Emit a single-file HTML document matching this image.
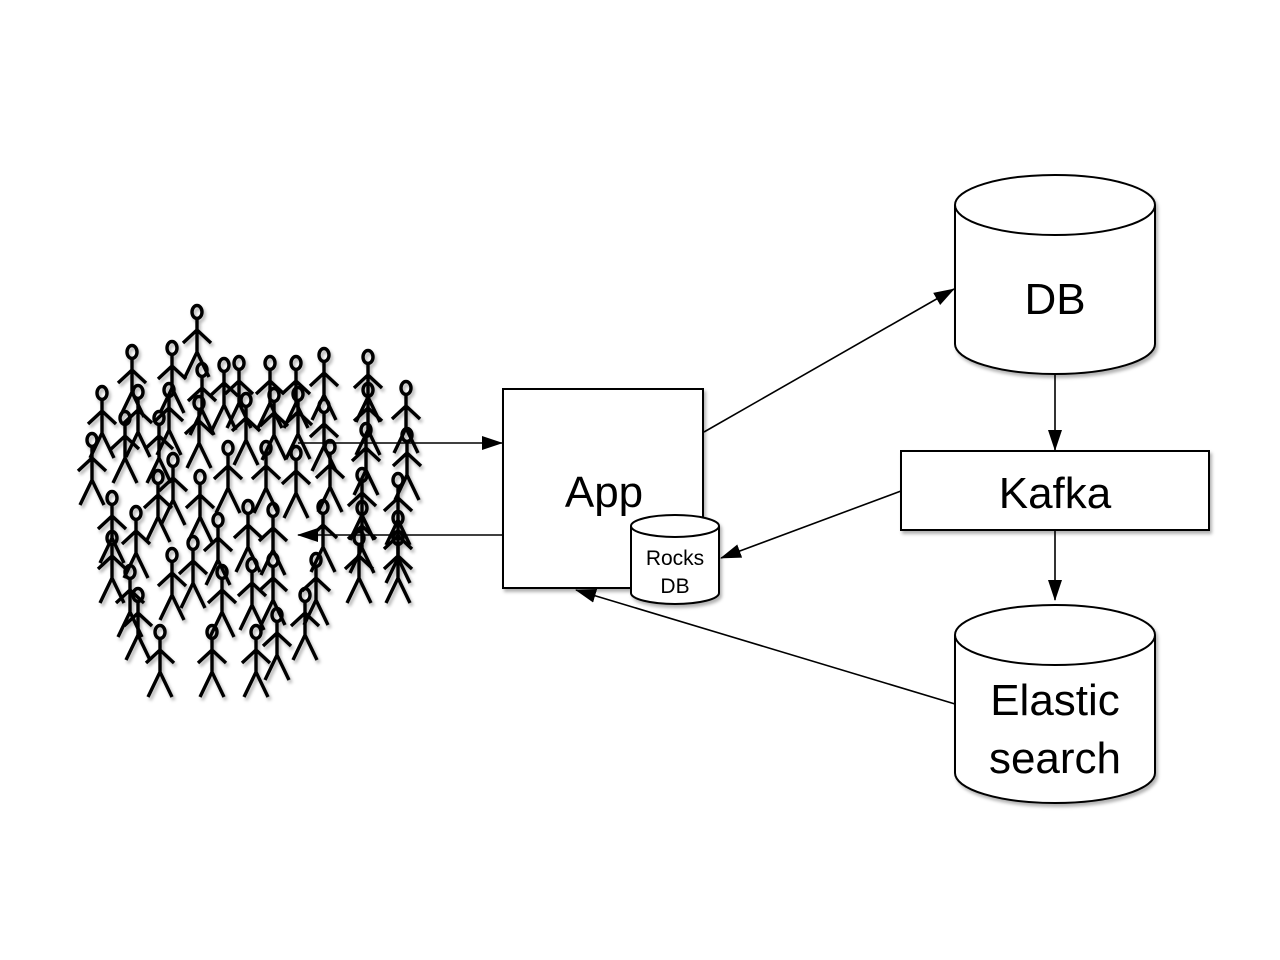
<!DOCTYPE html>
<html><head><meta charset="utf-8"><style>
html,body{margin:0;padding:0;background:#fff;width:1280px;height:960px;overflow:hidden}
text{font-family:"Liberation Sans",sans-serif;fill:#000}
</style></head><body>
<svg width="1280" height="960" viewBox="0 0 1280 960" xmlns="http://www.w3.org/2000/svg">
<defs>
<filter id="sh" x="-10%" y="-10%" width="130%" height="130%"><feDropShadow dx="2" dy="3" stdDeviation="1.5" flood-color="#000" flood-opacity="0.3"/></filter>
<marker id="ar" markerWidth="22" markerHeight="16" refX="20" refY="8" orient="auto" markerUnits="userSpaceOnUse"><path d="M0,1 L21,8 L0,15 Z" fill="#000"/></marker>
<symbol id="p" overflow="visible"><g fill="none" stroke="#000" stroke-width="3.4">
<ellipse cx="0" cy="0" rx="5" ry="6.5"/>
<path d="M0,7 V40 M-14,31 L0,18 L14,31 M-12,65 L0,40 L12,65"/></g></symbol>
</defs>
<g filter="url(#sh)">
<use href="#p" x="197" y="312"/><use href="#p" x="132" y="352"/><use href="#p" x="172" y="348"/><use href="#p" x="202" y="370"/><use href="#p" x="224" y="365"/><use href="#p" x="239" y="363"/><use href="#p" x="270" y="363"/><use href="#p" x="296" y="363"/><use href="#p" x="324" y="355"/><use href="#p" x="368" y="357"/>
<use href="#p" x="102" y="393"/><use href="#p" x="138" y="392"/><use href="#p" x="169" y="390"/><use href="#p" x="199" y="403"/><use href="#p" x="246" y="400"/><use href="#p" x="274" y="395"/><use href="#p" x="298" y="394"/><use href="#p" x="324" y="406"/><use href="#p" x="368" y="390"/><use href="#p" x="406" y="388"/>
<use href="#p" x="125" y="418"/><use href="#p" x="159" y="418"/><use href="#p" x="92" y="440"/><use href="#p" x="228" y="448"/><use href="#p" x="266" y="448"/><use href="#p" x="296" y="453"/><use href="#p" x="330" y="447"/><use href="#p" x="366" y="430"/><use href="#p" x="407" y="435"/>
<use href="#p" x="173" y="460"/><use href="#p" x="158" y="477"/><use href="#p" x="200" y="477"/><use href="#p" x="362" y="475"/><use href="#p" x="398" y="480"/>
<use href="#p" x="112" y="498"/><use href="#p" x="136" y="513"/><use href="#p" x="218" y="520"/><use href="#p" x="248" y="507"/><use href="#p" x="273" y="510"/><use href="#p" x="323" y="507"/><use href="#p" x="362" y="508"/><use href="#p" x="398" y="518"/>
<use href="#p" x="112" y="538"/><use href="#p" x="193" y="543"/><use href="#p" x="172" y="555"/><use href="#p" x="359" y="538"/><use href="#p" x="398" y="538"/>
<use href="#p" x="130" y="572"/><use href="#p" x="222" y="572"/><use href="#p" x="252" y="565"/><use href="#p" x="273" y="560"/><use href="#p" x="316" y="560"/>
<use href="#p" x="138" y="595"/><use href="#p" x="305" y="595"/><use href="#p" x="277" y="615"/><use href="#p" x="160" y="632"/><use href="#p" x="212" y="632"/><use href="#p" x="256" y="632"/>
</g>
<g stroke="#000" stroke-width="1.6" fill="none">
<line x1="298" y1="443" x2="502" y2="443" marker-end="url(#ar)"/>
<line x1="503" y1="535" x2="298" y2="535" marker-end="url(#ar)"/>
<line x1="704" y1="432" x2="954" y2="289" marker-end="url(#ar)"/>
<line x1="1055" y1="374" x2="1055" y2="450" marker-end="url(#ar)"/>
<line x1="1055" y1="531" x2="1055" y2="600" marker-end="url(#ar)"/>
<line x1="901" y1="491" x2="721" y2="558" marker-end="url(#ar)"/>
<line x1="955" y1="704" x2="576" y2="590" marker-end="url(#ar)"/>
</g>
<g stroke="#000" stroke-width="2" fill="#fff" filter="url(#sh)">
<rect x="503" y="389" width="200" height="199"/>
<path d="M955,205 A100,30 0 0 1 1155,205 V344 A100,30 0 0 1 955,344 Z"/>
<path d="M955,205 A100,30 0 0 0 1155,205" fill="none"/>
<rect x="901" y="451" width="308" height="79"/>
<path d="M955,635 A100,30 0 0 1 1155,635 V773 A100,30 0 0 1 955,773 Z"/>
<path d="M955,635 A100,30 0 0 0 1155,635" fill="none"/>
<path d="M631,526 A44,11 0 0 1 719,526 V593 A44,11 0 0 1 631,593 Z"/>
<path d="M631,526 A44,11 0 0 0 719,526" fill="none"/>
</g>
<text x="604" y="507" font-size="44" text-anchor="middle">App</text>
<text x="1055" y="314" font-size="44" text-anchor="middle">DB</text>
<text x="1055" y="508" font-size="44" text-anchor="middle">Kafka</text>
<text x="1055" y="715" font-size="44" text-anchor="middle">Elastic</text>
<text x="1055" y="773" font-size="44" text-anchor="middle">search</text>
<text x="675" y="565" font-size="21" text-anchor="middle">Rocks</text>
<text x="675" y="593" font-size="21" text-anchor="middle">DB</text>
</svg>
</body></html>
